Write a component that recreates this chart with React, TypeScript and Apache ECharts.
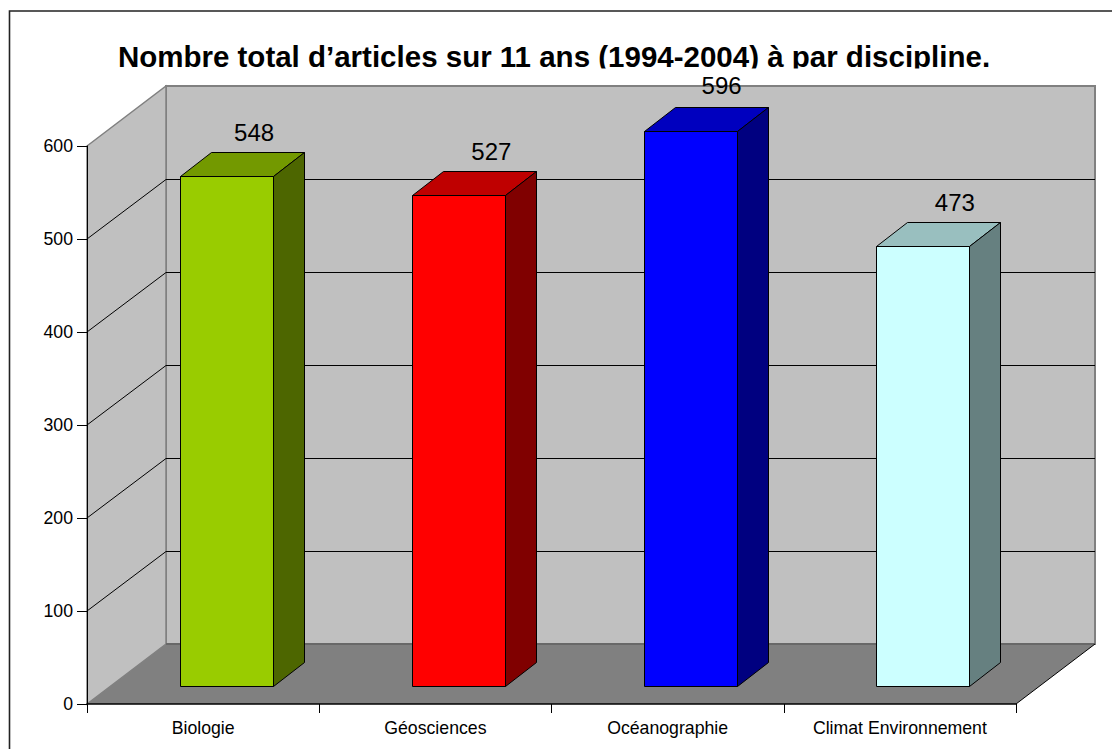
import React, { useEffect, useRef } from "react";
import * as echarts from "echarts";

const titleText = "Nombre total d’articles sur 11 ans (1994-2004) à par discipline.";
const categories = ["Biologie", "Géosciences", "Océanographie", "Climat Environnement"];
const values = [548, 527, 596, 473];
const frontColors = ["#99CC00", "#FF0000", "#0000FF", "#CCFFFF"];
const topColors = ["#739900", "#BF0000", "#0000BF", "#99BFBF"];
const sideColors = ["#4D6600", "#800000", "#000080", "#668080"];
const gridValues = [100, 200, 300, 400, 500];
const FONT = '"Liberation Sans", Arial, sans-serif';

// oblique projection
const WALL_DX = 79;
const WALL_DY = 60;
const BAR_OFFSET_X = 23.5;
const BAR_OFFSET_Y = 18;
const BAR_DEPTH_X = 31;
const BAR_DEPTH_Y = 24;
const BAR_WIDTH = 93;
const LABEL_NUDGE_X = [27.5, 32.5, 30.5, 31.5];
const LABEL_NUDGE_Y = [0, 0, -2, 0];
const crisp = (n: number) => Math.round(n - 0.5) + 0.5;

export default function App() {
  const ref = useRef<HTMLDivElement>(null);
  useEffect(() => {
    const chart = echarts.init(ref.current!, null, { renderer: "svg" });
    chart.setOption({
      animation: false,
      backgroundColor: "#FFFFFF",
      title: {
        text: titleText,
        left: 549,
        top: 36,
        textAlign: "center",
        z: 1,
        textStyle: { fontFamily: FONT, fontSize: 29.5, fontWeight: "bold", color: "#000000" },
      },
      graphic: [
        { type: "rect", z: 2, silent: true, shape: { x: 100, y: 68.5, width: 900, height: 16 }, style: { fill: "#FFFFFF" } },
        { type: "polyline", z: 2, silent: true, shape: { points: [[9.5, 749], [9.5, 11], [1112, 11]] }, style: { fill: "none", stroke: "#222222", lineWidth: 1.6 } },
      ],
      grid: { left: 87, right: 96, top: 146, bottom: 45 },
      xAxis: {
        type: "category",
        data: categories,
        boundaryGap: true,
        axisLine: { lineStyle: { color: "#000000", width: 1.5 } },
        axisTick: { show: true, length: 9, alignWithLabel: false, lineStyle: { color: "#000000" } },
        axisLabel: { interval: 0, margin: 15, fontFamily: FONT, fontSize: 17.7, color: "#000000" },
        splitLine: { show: false },
      },
      yAxis: {
        type: "value",
        min: 0,
        max: 600,
        interval: 100,
        axisLine: { show: true, lineStyle: { color: "#000000", width: 1 } },
        axisTick: { show: true, length: 10, lineStyle: { color: "#000000" } },
        axisLabel: { margin: 14, fontFamily: FONT, fontSize: 17.7, color: "#000000" },
        splitLine: { show: false },
      },
      series: [
        {
          type: "custom",
          name: "parois",
          coordinateSystem: "cartesian2d",
          z: -2,
          silent: true,
          clip: false,
          data: [[0, 0]],
          renderItem: (params: any) => {
            const { x, y, width, height } = params.coordSys;
            const b = y + height;
            const r = x + width;
            const dx = WALL_DX;
            const dy = WALL_DY;
            return {
              type: "group",
              children: [
                { type: "polygon", shape: { points: [[x + dx, y - dy], [r + dx, y - dy], [r + dx, b - dy], [x + dx, b - dy]] }, style: { fill: "#C0C0C0", stroke: "#808080", lineWidth: 2 } },
                { type: "polygon", shape: { points: [[x, y], [x + dx, y - dy], [x + dx, b - dy], [x, b]] }, style: { fill: "#C0C0C0", stroke: "#808080", lineWidth: 1.5 } },
                { type: "polygon", shape: { points: [[x, b], [r, b], [r + dx, b - dy], [x + dx, b - dy]] }, style: { fill: "#808080", stroke: "none" } },
                { type: "line", shape: { x1: x + dx, y1: b - dy, x2: r + dx, y2: b - dy }, style: { stroke: "#505050", lineWidth: 1 } },
                { type: "line", shape: { x1: r, y1: b, x2: r + dx, y2: b - dy }, style: { stroke: "#000000", lineWidth: 1 } },
              ],
            };
          },
        },
        {
          type: "custom",
          name: "grille",
          coordinateSystem: "cartesian2d",
          z: -1,
          silent: true,
          clip: false,
          data: gridValues.map((v) => [0, v]),
          encode: { y: 1 },
          renderItem: (params: any, api: any) => {
            const { x, width } = params.coordSys;
            const py = api.coord([0, api.value(1)])[1];
            const back = crisp(py - WALL_DY);
            const style = { stroke: "#000000", lineWidth: 1 };
            return {
              type: "group",
              children: [
                { type: "line", shape: { x1: x, y1: py, x2: x + WALL_DX, y2: back }, style },
                { type: "line", shape: { x1: x + WALL_DX, y1: back, x2: x + width + WALL_DX, y2: back }, style },
              ],
            };
          },
        },
        {
          type: "custom",
          name: "Articles",
          coordinateSystem: "cartesian2d",
          z: 3,
          silent: true,
          clip: false,
          data: values.map((v, i) => [i, v]),
          encode: { x: 0, y: 1 },
          renderItem: (params: any, api: any) => {
            const i = api.value(0);
            const v = api.value(1);
            const top = api.coord([i, v]);
            const base = api.coord([i, 0]);
            const l = crisp(top[0] + BAR_OFFSET_X - BAR_WIDTH / 2);
            const r = l + BAR_WIDTH;
            const t = crisp(top[1] - BAR_OFFSET_Y);
            const b = crisp(base[1] - BAR_OFFSET_Y);
            const dx = BAR_DEPTH_X;
            const dy = BAR_DEPTH_Y;
            const stroke = "#000000";
            return {
              type: "group",
              children: [
                { type: "polygon", shape: { points: [[l, t], [r, t], [r, b], [l, b]] }, style: { fill: frontColors[i], stroke, lineWidth: 1 } },
                { type: "polygon", shape: { points: [[l, t], [l + dx, t - dy], [r + dx, t - dy], [r, t]] }, style: { fill: topColors[i], stroke, lineWidth: 1 } },
                { type: "polygon", shape: { points: [[r, t], [r + dx, t - dy], [r + dx, b - dy], [r, b]] }, style: { fill: sideColors[i], stroke, lineWidth: 1 } },
                {
                  type: "text",
                  style: {
                    text: String(v),
                    x: top[0] + BAR_OFFSET_X + LABEL_NUDGE_X[i],
                    y: t - dy - 20 + LABEL_NUDGE_Y[i],
                    textAlign: "center",
                    textVerticalAlign: "middle",
                    fontFamily: FONT,
                    fontSize: 24,
                    fill: "#000000",
                  },
                },
              ],
            };
          },
        },
      ],
    });
    return () => chart.dispose();
  }, []);
  return <div ref={ref} style={{ position: "fixed", left: 0, top: 0, width: 1112, height: 749 }} />;
}
